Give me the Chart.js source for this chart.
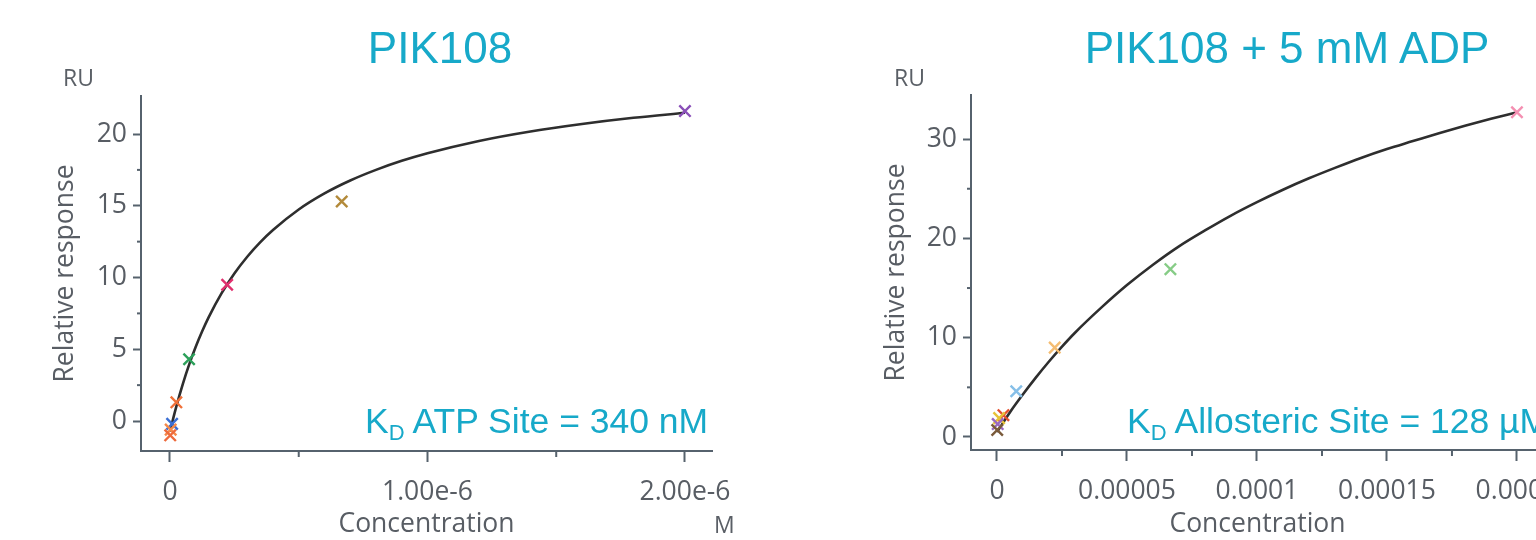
<!DOCTYPE html>
<html>
<head>
<meta charset="utf-8">
<script src="https://cdn.jsdelivr.net/npm/chart.js@4.4.1/dist/chart.umd.min.js"></script>
<style>
  html, body { margin:0; padding:0; background:#fff; width:1536px; height:540px; overflow:hidden; }
  body { position:relative; }
  .box { position:absolute; top:0; height:540px; }
  #leftBox { left:0; width:760px; }
  #rightBox { left:860px; width:740px; }
  .title { position:absolute; top:22px; font-family:"Liberation Sans", Arial, sans-serif; font-size:44px; line-height:52px; color:#17a9c9; white-space:nowrap; transform:translateX(-50%); }
  .kd { position:absolute; font-family:"Liberation Sans", Arial, sans-serif; font-size:35.5px; line-height:36px; color:#17a9c9; white-space:nowrap; }
  .kd sub { font-size:22px; vertical-align:-7px; line-height:0; }
  .unit { position:absolute; font-family:"Open Sans", sans-serif; font-size:23px; line-height:26px; color:#5a5f66; white-space:nowrap; }
</style>
</head>
<body>
<div class="box" id="leftBox"><canvas id="leftChart"></canvas></div>
<div class="box" id="rightBox"><canvas id="rightChart"></canvas></div>
<div class="title" style="left:440px;">PIK108</div>
<div class="title" style="left:1287px;">PIK108 + 5 mM ADP</div>
<div class="kd" style="left:365px; top:403px;">K<sub>D</sub> ATP Site = 340 nM</div>
<div class="kd" style="left:1127px; top:403px;">K<sub>D</sub> Allosteric Site = 128 µM</div>
<div class="unit" style="left:63px; top:64px;">RU</div>
<div class="unit" style="left:894px; top:64px;">RU</div>
<div class="unit" style="left:714px; top:511px;">M</div>
<script>
// ---------- Left panel: PIK108 ----------
const leftConc = [2e-6, 6.67e-7, 2.22e-7, 7.41e-8, 2.47e-8, 8.2e-9, 2.7e-9, 9e-10];
const leftResp = [21.6, 15.3, 9.5, 4.3, 1.3, -0.2, -0.6, -1.0];
const leftColors = ['#8a4fb8', '#b38a3a', '#e0306e', '#2ca05a', '#f07038', '#3b6fd4', '#f58a4a', '#ee6a3c'];
const leftFitConc = [0, 1e-8, 2.5e-8, 5e-8, 7.5e-8, 1e-7, 1.25e-7, 1.5e-7, 2e-7, 2.5e-7, 3e-7, 3.5e-7, 4e-7, 5e-7, 6e-7, 7e-7, 8e-7, 9e-7, 1e-6, 1.2e-6, 1.4e-6, 1.6e-6, 1.8e-6, 2e-6];
const leftFitResp = [-0.74, 0.0, 1.04, 2.59, 3.96, 5.17, 6.25, 7.22, 8.89, 10.28, 11.45, 12.45, 13.31, 14.74, 15.86, 16.76, 17.5, 18.13, 18.66, 19.52, 20.18, 20.7, 21.13, 21.48];
const leftXMajor = [0, 1e-6, 2e-6];
const leftXLabels = ['0', '1.00e-6', '2.00e-6'];
const leftXMinor = [0.5e-6, 1.5e-6];
const leftYMajor = [0, 5, 10, 15, 20];
const leftYLabels = ['0', '5', '10', '15', '20'];
const leftYMinor = [2.5, 7.5, 12.5, 17.5];

// ---------- Right panel: PIK108 + 5 mM ADP ----------
const rightConc = [2e-4, 6.67e-5, 2.22e-5, 7.41e-6, 2.47e-6, 8.2e-7, 2.7e-7, 9.1e-8];
const rightResp = [32.7, 16.9, 9.0, 4.6, 2.2, 1.9, 1.3, 0.7];
const rightColors = ['#f48fb1', '#86cc86', '#f5bd72', '#86bfe8', '#e4502e', '#e8c238', '#9a68c0', '#7a5a3a'];
const rightFitConc = [0, 5e-6, 1e-5, 1.5e-5, 2e-5, 2.5e-5, 3e-5, 4e-5, 5e-5, 6e-5, 7e-5, 8e-5, 9e-5, 1e-4, 1.1e-4, 1.2e-4, 1.3e-4, 1.4e-4, 1.5e-4, 1.6e-4, 1.7e-4, 1.8e-4, 1.9e-4, 2e-4];
const rightFitResp = [0.5, 2.5, 4.3, 6.0, 7.6, 9.1, 10.5, 13.0, 15.3, 17.35, 19.2, 20.8, 22.3, 23.65, 24.9, 26.05, 27.1, 28.1, 29.0, 29.8, 30.6, 31.35, 32.05, 32.7];
const rightXMajor = [0, 5e-5, 1e-4, 1.5e-4, 2e-4];
const rightXLabels = ['0', '0.00005', '0.0001', '0.00015', '0.0002'];
const rightXMinor = [2.5e-5, 7.5e-5, 1.25e-4, 1.75e-4];
const rightYMajor = [0, 10, 20, 30];
const rightYLabels = ['0', '10', '20', '30'];
const rightYMinor = [5, 15, 25];

const AXIS = '#56626d';
const TEXT = '#585d64';
const FONT = 'Open Sans';
const FSIZE = 26.5;

const minorTicks = {
  id: 'minorTicks',
  afterDraw(chart, args, opts) {
    const ctx = chart.ctx;
    const xs = chart.scales.x, ys = chart.scales.y;
    ctx.save();
    ctx.strokeStyle = AXIS;
    ctx.lineWidth = 2;
    opts.x.forEach(v => {
      const p = xs.getPixelForValue(v);
      ctx.beginPath(); ctx.moveTo(p, xs.top); ctx.lineTo(p, xs.top + opts.xLen); ctx.stroke();
    });
    opts.y.forEach(v => {
      const p = ys.getPixelForValue(v);
      ctx.beginPath(); ctx.moveTo(ys.right, p); ctx.lineTo(ys.right - opts.yLen, p); ctx.stroke();
    });
    ctx.restore();
  }
};

function build(canvasId, p) {
  const points = p.conc.map((c, i) => ({ x: c, y: p.resp[i] }));
  const fit = p.fitConc.map((c, i) => ({ x: c, y: p.fitResp[i] }));
  return new Chart(document.getElementById(canvasId), {
    type: 'scatter',
    data: {
      datasets: [
        {
          label: 'Measured',
          data: points,
          pointStyle: 'crossRot',
          pointRadius: 8,
          pointHoverRadius: 8,
          pointBorderWidth: 2.4,
          borderColor: p.colors,
          backgroundColor: p.colors,
          pointBorderColor: p.colors,
          showLine: false
        },
        {
          label: 'Fit',
          data: fit,
          showLine: true,
          pointRadius: 0,
          borderColor: '#2e2e2e',
          borderWidth: 2.6,
          cubicInterpolationMode: 'monotone',
          fill: false
        }
      ]
    },
    options: {
      responsive: true,
      maintainAspectRatio: false,
      animation: false,
      events: [],
      layout: { padding: { top: p.top, right: p.padRight, left: 0, bottom: 0 } },
      plugins: {
        legend: { display: false },
        tooltip: { enabled: false },
        minorTicks: { x: p.xMinor, y: p.yMinor, xLen: 6, yLen: 4 }
      },
      scales: {
        x: {
          type: 'linear',
          min: p.xMin, max: p.xMax,
          afterBuildTicks: s => { s.ticks = p.xMajor.map(v => ({ value: v })); },
          afterFit: s => { s.height = p.xHeight; },
          ticks: {
            autoSkip: false, maxRotation: 0, minRotation: 0,
            padding: 15,
            color: TEXT,
            font: { family: FONT, size: FSIZE },
            callback: (v, i) => p.xLabels[i]
          },
          grid: { drawOnChartArea: false, tickLength: 11, tickWidth: 2, tickColor: AXIS },
          border: { color: AXIS, width: 2 },
          title: { display: true, text: 'Concentration', color: TEXT, font: { family: FONT, size: FSIZE }, padding: { top: 0, bottom: 0 } }
        },
        y: {
          type: 'linear',
          min: p.yMin, max: p.yMax,
          afterBuildTicks: s => { s.ticks = p.yMajor.map(v => ({ value: v })); },
          afterFit: s => { s.width = p.yWidth; },
          ticks: {
            padding: 6,
            color: TEXT,
            font: { family: FONT, size: FSIZE },
            callback: (v, i) => p.yLabels[i]
          },
          grid: { drawOnChartArea: false, tickLength: 8, tickWidth: 2, tickColor: AXIS },
          border: { color: AXIS, width: 2 },
          title: { display: true, text: 'Relative response', color: TEXT, font: { family: FONT, size: FSIZE }, padding: { top: p.yTitlePad, bottom: 0 } }
        }
      }
    },
    plugins: [minorTicks]
  });
}

build('leftChart', {
  conc: leftConc, resp: leftResp, colors: leftColors,
  fitConc: leftFitConc, fitResp: leftFitResp,
  xMajor: leftXMajor, xLabels: leftXLabels, xMinor: leftXMinor,
  yMajor: leftYMajor, yLabels: leftYLabels, yMinor: leftYMinor,
  xMin: -1.126e-7, xMax: 2.105e-6, yMin: -2.09, yMax: 22.65,
  top: 96, padRight: 48, xHeight: 89, yWidth: 141, yTitlePad: 50
});

build('rightChart', {
  conc: rightConc, resp: rightResp, colors: rightColors,
  fitConc: rightFitConc, fitResp: rightFitResp,
  xMajor: rightXMajor, xLabels: rightXLabels, xMinor: rightXMinor,
  yMajor: rightYMajor, yLabels: rightYLabels, yMinor: rightYMinor,
  xMin: -1.0e-5, xMax: 2.104e-4, yMin: -1.31, yMax: 34.44,
  top: 95, padRight: 56, xHeight: 90, yWidth: 111, yTitlePad: 21
});
</script>
</body>
</html>
